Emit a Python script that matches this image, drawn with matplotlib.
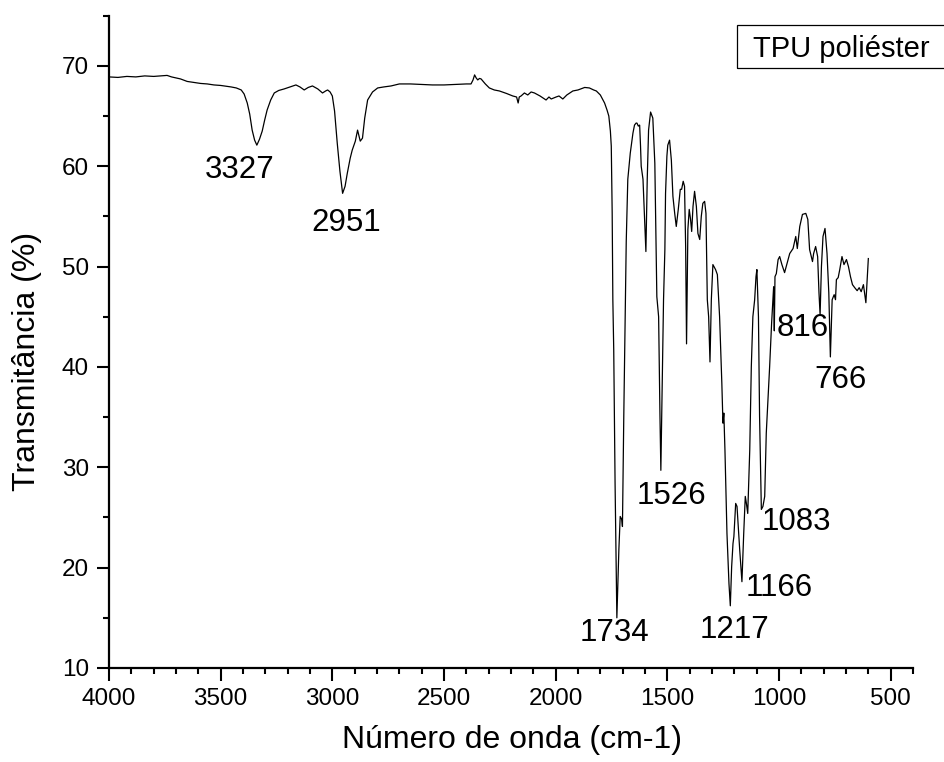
import matplotlib
matplotlib.use("Agg")
import matplotlib.pyplot as plt
from matplotlib.ticker import MultipleLocator
from matplotlib.patches import Rectangle

plt.rcParams['font.family'] = ['Liberation Sans', 'DejaVu Sans']

# ---- data ----
wavenumber = [4000, 3960, 3920, 3880, 3840, 3800, 3770, 3740, 3720, 3700, 3680, 3650, 3620, 3590,
              3560, 3530, 3500, 3470, 3453, 3430, 3408, 3395, 3381, 3370, 3359, 3348, 3338, 3326,
              3314, 3303, 3292, 3276, 3260, 3240, 3216, 3190, 3163, 3145, 3126, 3108, 3089, 3065,
              3044, 3030, 3021, 3010, 3000, 2990, 2978, 2966, 2954, 2943, 2933, 2920, 2911, 2897,
              2887, 2875, 2865, 2855, 2842, 2820, 2797, 2770, 2737, 2700, 2650, 2600, 2552, 2500,
              2450, 2400, 2379, 2370, 2363, 2356, 2349, 2341, 2334, 2315, 2297, 2275, 2252, 2220,
              2192, 2175, 2168, 2163, 2155, 2140, 2125, 2110, 2095, 2070, 2050, 2043, 2030, 2020,
              1998, 1985, 1968, 1950, 1923, 1900, 1870, 1849, 1830, 1818, 1800, 1781, 1770, 1762,
              1755, 1751, 1747, 1744, 1740, 1734, 1726, 1717, 1711, 1704, 1701, 1695, 1689, 1684,
              1677, 1666, 1654, 1647, 1640, 1636, 1630, 1624, 1620, 1617, 1609, 1602, 1596, 1590,
              1584, 1575, 1565, 1556, 1547, 1539, 1533, 1529, 1523, 1517, 1511, 1508, 1502, 1498,
              1490, 1482, 1475, 1467, 1460, 1451, 1442, 1436, 1429, 1423, 1418, 1414, 1411, 1408,
              1402, 1396, 1391, 1385, 1378, 1370, 1363, 1355, 1348, 1341, 1333, 1327, 1321, 1315,
              1309, 1303, 1296, 1284, 1276, 1266, 1256, 1251, 1247, 1242, 1233, 1224, 1218, 1212,
              1206, 1202, 1194, 1188, 1176, 1166, 1158, 1151, 1146, 1140, 1131, 1124, 1117, 1109,
              1103, 1099, 1092, 1087, 1079, 1072, 1064, 1057, 1042, 1033, 1027, 1024, 1021, 1018,
              1012, 1004, 997, 987, 975, 964, 952, 937, 925, 918, 907, 895, 880, 871, 863, 850,
              845, 836, 827, 821, 816, 810, 803, 794, 785, 777, 770, 762, 753, 747, 743, 735, 728,
              718, 709, 698, 689, 680, 671, 661, 650, 641, 632, 622, 611, 600]
transmittance = [68.9, 68.85, 68.95, 68.9, 69.0, 68.95, 69.0, 69.05, 68.9, 68.8, 68.7, 68.45, 68.35, 68.25,
                 68.2, 68.1, 68.05, 67.95, 67.9, 67.8, 67.6, 67.2, 66.3, 65.2, 63.6, 62.6, 62.1, 62.7,
                 63.5, 64.6, 65.6, 66.6, 67.3, 67.55, 67.7, 67.9, 68.1, 67.9, 67.6, 67.85, 68.0, 67.7,
                 67.3, 67.5, 67.6, 67.4, 67.0, 65.5, 62.3, 59.5, 57.3, 58.0, 59.3, 60.8, 61.6, 62.5,
                 63.6, 62.5, 62.8, 64.8, 66.6, 67.4, 67.8, 67.9, 68.0, 68.2, 68.2, 68.15, 68.1, 68.1,
                 68.15, 68.2, 68.2, 68.6, 69.1, 68.8, 68.6, 68.75, 68.7, 68.2, 67.8, 67.6, 67.5, 67.25,
                 67.0, 66.9, 66.3, 66.9, 67.0, 67.3, 67.1, 67.4, 67.3, 67.0, 66.7, 66.6, 66.9, 66.7,
                 66.9, 67.0, 66.7, 67.1, 67.5, 67.6, 67.85, 67.8, 67.6, 67.5, 67.1, 66.3, 65.6, 65.0,
                 63.5, 62.0, 55.4, 46.7, 41.7, 28.4, 15.0, 21.8, 25.1, 24.8, 24.1, 35.1, 45.0, 52.5,
                 58.7, 61.3, 63.3, 64.1, 64.3, 64.3, 64.0, 64.1, 62.0, 60.0, 58.7, 54.7, 51.5, 58.7,
                 63.6, 65.4, 64.8, 60.3, 47.0, 45.0, 35.1, 29.7, 38.4, 46.7, 51.7, 57.3, 61.0, 62.1,
                 62.6, 60.6, 57.0, 55.3, 54.0, 55.7, 57.7, 57.7, 58.5, 58.0, 52.0, 42.3, 48.4, 53.7,
                 55.7, 54.7, 53.5, 56.0, 57.5, 56.0, 53.3, 52.7, 55.0, 56.3, 56.5, 55.3, 46.7, 45.0,
                 40.5, 46.7, 50.2, 49.7, 49.2, 45.0, 38.4, 34.4, 35.4, 31.7, 23.4, 18.4, 16.2, 20.1,
                 22.4, 23.1, 26.4, 26.1, 21.8, 18.6, 23.4, 27.1, 26.4, 25.4, 31.7, 40.0, 45.0, 46.7,
                 49.0, 49.7, 45.0, 35.1, 25.8, 26.1, 27.1, 33.4, 40.0, 44.4, 46.7, 48.0, 43.6, 49.0,
                 49.3, 50.7, 51.0, 50.2, 49.4, 50.3, 51.3, 51.8, 53.0, 51.8, 54.0, 55.2, 55.3, 54.7, 51.7, 50.5,
                 51.3, 52.0, 51.0, 47.4, 45.2, 50.0, 53.0, 53.8, 51.3, 47.4, 41.0, 46.7, 47.2, 46.7, 48.7, 48.9, 49.7,
                 51.0, 50.2, 50.7, 50.0, 49.0, 48.2, 47.9, 47.6, 47.9, 47.5, 48.2, 46.4, 50.8]

peak_labels = ["3327", "2951", "1734", "1526", "1217", "1166", "1083", "816", "766"]
series_name = "TPU poliéster"
x_label = "Número de onda (cm-1)"
y_label = "Transmitância (%)"

# label text positions (data coords, layout only)
label_x = [3417, 2940, 1736, 1482, 1199, 997, 922, 894, 724]
label_y = [59.6, 54.3, 13.5, 27.1, 13.8, 18.0, 24.5, 43.9, 38.7]

W, H = 945, 762
fig = plt.figure(figsize=(W / 100, H / 100), dpi=100)
ax = fig.add_axes([109 / W, (H - 668) / H, 804 / W, (668 - 15.7) / H])

ax.plot(wavenumber, transmittance, color='black', lw=0.9)

ax.set_xlim(4000, 400)
ax.set_ylim(10, 75)
ax.xaxis.set_major_locator(MultipleLocator(500))
ax.xaxis.set_minor_locator(MultipleLocator(100))
ax.yaxis.set_major_locator(MultipleLocator(10))
ax.yaxis.set_minor_locator(MultipleLocator(5))

for s in ['top', 'right']:
    ax.spines[s].set_visible(False)
for s in ['left', 'bottom']:
    ax.spines[s].set_linewidth(1.6)

ax.tick_params(which='major', direction='out', length=9.5, width=1.5, labelsize=17.5, pad=5)
ax.tick_params(which='minor', direction='out', length=4.5, width=1.5)
ax.tick_params(axis='y', which='major', length=8.5, pad=6)

ax.set_xlabel(x_label, fontsize=23)
ax.set_ylabel(y_label, fontsize=23)
ax.xaxis.set_label_coords(0.501, -0.087)
ax.yaxis.set_label_coords(-0.083, 0.47)

for t, x, y in zip(peak_labels, label_x, label_y):
    ax.text(x, y, t, fontsize=22.5, ha='center', va='center')

# legend-like box (clipped by figure edge)
rect = Rectangle((737 / W, (H - 68) / H), 0.3, 43 / H, transform=fig.transFigure,
                 fill=False, edgecolor='black', lw=0.9, clip_on=False)
fig.add_artist(rect)
fig.text(753 / W, (H - 57.3) / H, series_name, fontsize=21, ha='left', va='baseline')

fig.savefig("out.png", dpi=100)
